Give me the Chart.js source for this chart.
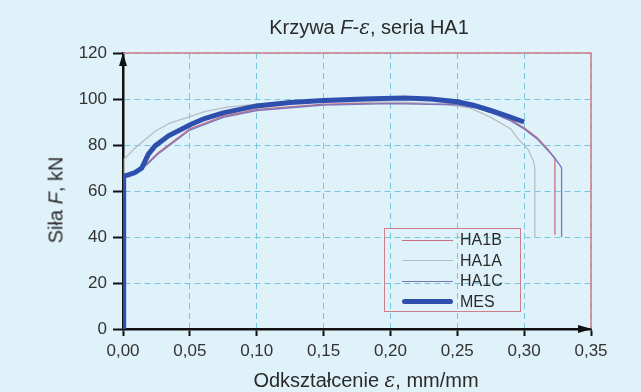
<!DOCTYPE html>
<html>
<head>
<meta charset="utf-8">
<script src="https://cdn.jsdelivr.net/npm/chart.js@4.4.1/dist/chart.umd.min.js"></script>
<style>
  body { margin: 0; background: #dff1f9; }
  #wrap { position: relative; width: 641px; height: 392px; background: #dff1f9;
          font-family: "Liberation Sans", Arial, sans-serif; color: #2b2b2b; }
  #chart { position: absolute; left: 0; top: 0; }
  .title { position: absolute; left: 169px; width: 400px; top: 15px; text-align: center; font-size: 20px; line-height: 24px; }
  .xtitle { position: absolute; left: 166px; width: 400px; top: 368px; text-align: center; font-size: 20px; line-height: 24px; }
  .ytitle { position: absolute; left: 56px; top: 200px; font-size: 20px; white-space: nowrap;
            transform: translate(-50%, -50%) rotate(-90deg); }
  .eps { font-family: "DejaVu Serif", serif; font-style: italic; }
  #legend { position: absolute; left: 384px; top: 228px; width: 137px; height: 84px;
            border: 1.5px solid #cf7f8c; box-sizing: border-box; font-size: 16px; }
  #legend .row { position: absolute; left: 17px; height: 20px; display: flex; align-items: center; }
  #legend .sw { width: 51px; margin-right: 7px; }
</style>
</head>
<body>
<div id="wrap">
  <canvas id="chart" width="641" height="392"></canvas>
  <div class="title">Krzywa <i>F</i>-<span class="eps">ε</span>, seria HA1</div>
  <div class="ytitle">Siła <i>F</i>, kN</div>
  <div class="xtitle">Odkształcenie <span class="eps">ε</span>, mm/mm</div>
  <div id="legend"></div>
</div>
<script>
// tick labels
const xTicks = ['0,00', '0,05', '0,10', '0,15', '0,20', '0,25', '0,30', '0,35'];
const yTicks = ['0', '20', '40', '60', '80', '100', '120'];

// series: strain (mm/mm) and force (kN)
const ha1bStrain = [0, 0.001, 0.01, 0.018, 0.026, 0.05, 0.075, 0.10, 0.15, 0.20, 0.25, 0.265, 0.28, 0.29, 0.30, 0.31, 0.318, 0.323, 0.323];
const ha1bForce  = [0, 66.5, 68.5, 72, 76.5, 87, 92.5, 95.5, 97.8, 98.3, 97.8, 96.3, 93.5, 91, 87.5, 83, 78, 74, 41];

const ha1aStrain = [0, 0.001, 0.009, 0.024, 0.035, 0.051, 0.061, 0.078, 0.10, 0.125, 0.15, 0.18, 0.21, 0.24, 0.26, 0.275, 0.29, 0.295, 0.303, 0.307, 0.308, 0.308];
const ha1aForce  = [0, 74, 78.7, 86, 89.5, 92.6, 94.5, 96.5, 97.8, 98.3, 98.6, 98.7, 98.6, 97.8, 96, 92, 87, 83, 78, 73, 70, 40];

const ha1cStrain = [0, 0.001, 0.01, 0.018, 0.026, 0.05, 0.075, 0.10, 0.15, 0.20, 0.25, 0.265, 0.28, 0.29, 0.30, 0.31, 0.322, 0.327, 0.328, 0.328];
const ha1cForce  = [0, 66, 68, 71.5, 76, 86.5, 92, 95, 97.4, 98, 97.5, 96, 93, 90.5, 87, 82.5, 75, 71, 70, 40];

const mesStrain = [0, 0.0005, 0.004, 0.009, 0.014, 0.019, 0.024, 0.034, 0.051, 0.061, 0.075, 0.10, 0.125, 0.15, 0.18, 0.21, 0.23, 0.25, 0.262, 0.275, 0.288, 0.30];
const mesForce  = [0, 66.5, 67, 68, 70, 76, 79.6, 84, 89, 91.5, 94, 97, 98.5, 99.3, 100, 100.4, 100, 98.8, 97.3, 95, 92.5, 90];

const seriesNames = ['HA1B', 'HA1A', 'HA1C', 'MES'];
const seriesColors = ['#c8707f', '#b9bcc4', '#7c74bc', '#2f4fae'];
const seriesWidths = [1.3, 1.3, 1.3, 5];

const toPoints = (xs, ys) => xs.map((x, i) => ({ x: x, y: ys[i] }));
const allData = [
    toPoints(ha1bStrain, ha1bForce),
    toPoints(ha1aStrain, ha1aForce),
    toPoints(ha1cStrain, ha1cForce),
    toPoints(mesStrain, mesForce)
];

// red frame on top/right + arrow heads on the axes
const framePlugin = {
    id: 'frame',
    afterDraw(chart) {
        const { ctx, chartArea: a } = chart;
        ctx.save();
        ctx.strokeStyle = '#d27c8a';
        ctx.lineWidth = 1.5;
        ctx.beginPath();
        ctx.moveTo(a.left, a.top);
        ctx.lineTo(a.right, a.top);
        ctx.lineTo(a.right, a.bottom);
        ctx.stroke();
        ctx.fillStyle = '#111';
        ctx.beginPath();
        ctx.moveTo(a.left, a.top);
        ctx.lineTo(a.left - 4, a.top + 13);
        ctx.lineTo(a.left + 4, a.top + 13);
        ctx.fill();
        ctx.beginPath();
        ctx.moveTo(a.right + 1, a.bottom);
        ctx.lineTo(a.right - 13, a.bottom - 4);
        ctx.lineTo(a.right - 13, a.bottom + 4);
        ctx.fill();
        ctx.restore();
    }
};

const tickFont = { family: '"Liberation Sans", Arial, sans-serif', size: 17 };

new Chart(document.getElementById('chart').getContext('2d'), {
    type: 'scatter',
    data: {
        datasets: seriesNames.map((name, i) => ({
            label: name,
            data: allData[i],
            showLine: true,
            borderColor: seriesColors[i],
            borderWidth: seriesWidths[i],
            pointRadius: 0,
            tension: 0,
            order: i === 3 ? 0 : 3 - i
        }))
    },
    options: {
        responsive: false,
        animation: false,
        events: [],
        layout: { padding: { left: 0, top: 53, right: 50, bottom: 0 } },
        plugins: { legend: { display: false }, tooltip: { enabled: false } },
        scales: {
            x: {
                type: 'linear', min: 0, max: 0.35,
                afterFit(s) { s.height = 63; },
                afterBuildTicks(s) { s.ticks = xTicks.map((t, i) => ({ value: i * 0.05 })); },
                ticks: {
                    color: '#333', font: tickFont, padding: 5,
                    callback: (v, i) => xTicks[i]
                },
                grid: { color: '#78c6dc', lineWidth: 1, tickColor: '#111', tickLength: 7, tickWidth: 2 },
                border: { color: '#111', width: 2.5, dash: [6, 4] }
            },
            y: {
                type: 'linear', min: 0, max: 120,
                afterFit(s) { s.width = 123; },
                afterBuildTicks(s) { s.ticks = yTicks.map(t => ({ value: Number(t) })); },
                ticks: {
                    color: '#333', font: tickFont, padding: 6,
                    callback: (v, i) => yTicks[i]
                },
                grid: { color: '#78c6dc', lineWidth: 1, tickColor: '#111', tickLength: 10, tickWidth: 2 },
                border: { color: '#111', width: 2.5, dash: [6, 4] }
            }
        }
    },
    plugins: [framePlugin]
});

// legend box
const legend = document.getElementById('legend');
seriesNames.forEach((name, i) => {
    const row = document.createElement('div');
    row.className = 'row';
    row.style.top = (1 + i * 20.5) + 'px';
    const sw = document.createElement('span');
    sw.className = 'sw';
    sw.style.borderTop = seriesWidths[i] + 'px solid ' + seriesColors[i];
    if (i === 3) sw.style.borderRadius = '3px';
    row.appendChild(sw);
    row.appendChild(document.createTextNode(name));
    legend.appendChild(row);
});
</script>
</body>
</html>
